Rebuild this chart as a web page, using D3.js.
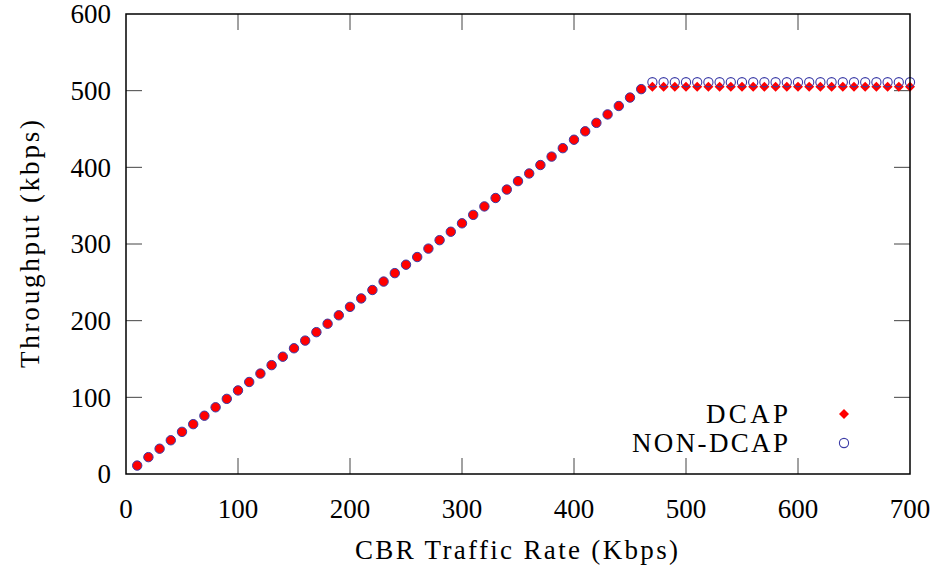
<!DOCTYPE html>
<html>
<head>
<meta charset="utf-8">
<script src="https://cdn.jsdelivr.net/npm/d3@7"></script>
<style>
  body { margin: 0; background: #fff; }
  svg { display: block; }
  text { font-family: "Liberation Serif", "DejaVu Serif", serif; fill: #000; }
</style>
</head>
<body>
<svg id="chart" width="942" height="573"></svg>
<script>
// ---- data ----
const rates = [10,20,30,40,50,60,70,80,90,100,110,120,130,140,150,160,170,180,190,200,
  210,220,230,240,250,260,270,280,290,300,310,320,330,340,350,360,370,380,390,400,
  410,420,430,440,450,460,470,480,490,500,510,520,530,540,550,560,570,580,590,600,
  610,620,630,640,650,660,670,680,690,700];
const dcap = [11,22,33,44,55,65,76,87,98,109,120,131,142,153,164,174,185,196,207,218,
  229,240,251,262,273,283,294,305,316,327,338,349,360,371,382,392,403,414,425,436,
  447,458,469,480,491,502,505,505,505,505,505,505,505,505,505,505,505,505,505,505,
  505,505,505,505,505,505,505,505,505,505];
const nonDcap = [11,22,33,44,55,65,76,87,98,109,120,131,142,153,164,174,185,196,207,218,
  229,240,251,262,273,283,294,305,316,327,338,349,360,371,382,392,403,414,425,436,
  447,458,469,480,491,502,511,511,511,511,511,511,511,511,511,511,511,511,511,511,
  511,511,511,511,511,511,511,511,511,511];
const xTicks = [0,100,200,300,400,500,600,700];
const yTicks = [0,100,200,300,400,500,600];
const seriesNames = ["DCAP", "NON-DCAP"];
const xTitle = "CBR Traffic Rate (Kbps)";
const yTitle = "Throughput (kbps)";

// ---- layout ----
const L = 126, R = 910, T = 14, B = 474;
const svg = d3.select("#chart");
const x = d3.scaleLinear().domain([0, 700]).range([L, R]);
const y = d3.scaleLinear().domain([0, 600]).range([B, T]);
const RED = "#ff0000", BLUE = "#3b3ba6";
const fs = 27;

// ticks (inward, mirrored)
const tickLen = 16;
const tg = svg.append("g").attr("stroke", "#444").attr("stroke-width", 1);
xTicks.forEach(v => {
  if (v === 0 || v === 700) return;
  tg.append("line").attr("x1", x(v)).attr("x2", x(v)).attr("y1", B).attr("y2", B - tickLen);
  tg.append("line").attr("x1", x(v)).attr("x2", x(v)).attr("y1", T).attr("y2", T + tickLen);
});
yTicks.forEach(v => {
  if (v === 0 || v === 600) return;
  tg.append("line").attr("y1", y(v)).attr("y2", y(v)).attr("x1", L).attr("x2", L + tickLen);
  tg.append("line").attr("y1", y(v)).attr("y2", y(v)).attr("x1", R).attr("x2", R - tickLen);
});

// tick labels
svg.append("g").selectAll("text").data(xTicks).join("text")
  .attr("x", d => x(d)).attr("y", 509).attr("dy", "0.34em")
  .attr("text-anchor", "middle").attr("font-size", fs).text(d => d);
svg.append("g").selectAll("text").data(yTicks).join("text")
  .attr("x", 111).attr("y", d => y(d)).attr("dy", "0.34em")
  .attr("text-anchor", "end").attr("font-size", fs).text(d => d);

// titles
svg.append("text").attr("x", 355).attr("y", 550).attr("dy", "0.34em")
  .attr("font-size", fs).attr("textLength", 323).attr("lengthAdjust", "spacing").text(xTitle);
svg.append("text").attr("transform", `translate(30,368) rotate(-90)`)
  .attr("dy", "0.34em").attr("font-size", fs)
  .attr("textLength", 248).attr("lengthAdjust", "spacing").text(yTitle);

// points
const pts = rates.map((r, i) => ({ r, a: dcap[i], b: nonDcap[i] }));
const gp = svg.append("g");
const diamond = s => `M0,${-s}L${s},0L0,${s}L${-s},0Z`;
pts.forEach(p => {
  if (p.a === p.b) {
    gp.append("circle").attr("cx", x(p.r)).attr("cy", y(p.b)).attr("r", 4.7)
      .attr("fill", RED).attr("stroke", BLUE).attr("stroke-width", 1);
  } else {
    gp.append("path").attr("d", diamond(5)).attr("transform", `translate(${x(p.r)},${y(p.a)})`)
      .attr("fill", RED);
    gp.append("circle").attr("cx", x(p.r)).attr("cy", y(p.b)).attr("r", 4.6)
      .attr("fill", "none").attr("stroke", BLUE).attr("stroke-width", 1.1);
  }
});

// legend
const lg = svg.append("g");
lg.append("text").attr("x", 706).attr("y", 414).attr("dy", "0.34em")
  .attr("font-size", fs).attr("textLength", 82).attr("lengthAdjust", "spacing").text(seriesNames[0]);
lg.append("text").attr("x", 632).attr("y", 443).attr("dy", "0.34em")
  .attr("font-size", fs).attr("textLength", 156).attr("lengthAdjust", "spacing").text(seriesNames[1]);
lg.append("path").attr("d", diamond(5)).attr("transform", "translate(844,414)").attr("fill", RED);
lg.append("circle").attr("cx", 844).attr("cy", 443).attr("r", 4.6)
  .attr("fill", "none").attr("stroke", BLUE).attr("stroke-width", 1.1);

// frame
svg.append("rect").attr("x", L).attr("y", T).attr("width", R - L).attr("height", B - T)
  .attr("fill", "none").attr("stroke", "#000").attr("stroke-width", 1.5);
</script>
</body>
</html>
